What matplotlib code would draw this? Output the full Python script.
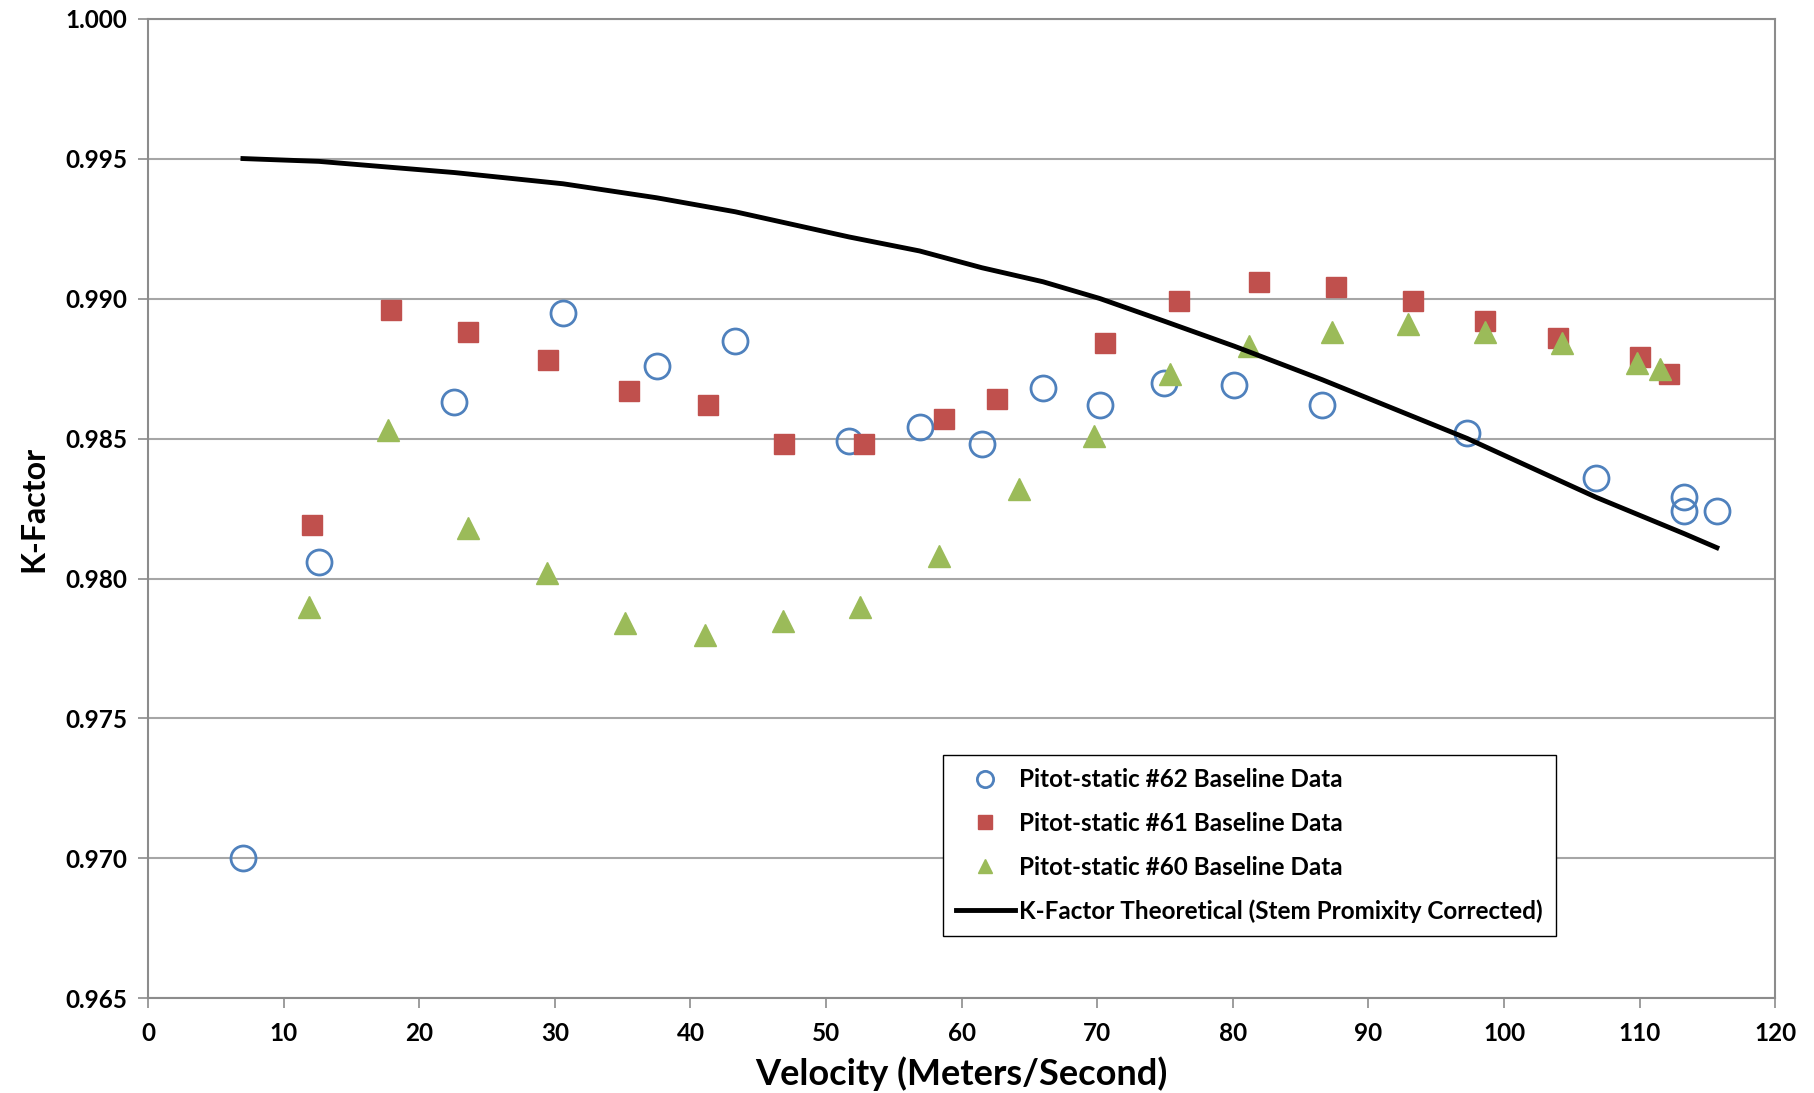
import matplotlib
matplotlib.use("Agg")
import matplotlib.pyplot as plt

# Pitot-static #62 (open circles)
vel_62 = [7.0, 12.6, 22.6, 30.6, 37.5, 43.3, 51.7, 56.9, 61.5, 66.0, 70.2,
          74.9, 80.1, 86.6, 97.3, 106.8, 113.3, 113.3, 115.7]
k_62 = [0.9700, 0.9806, 0.9863, 0.9895, 0.9876, 0.9885, 0.9849, 0.9854, 0.9848,
        0.9868, 0.9862, 0.9870, 0.9869, 0.9862, 0.9852, 0.9836, 0.9824, 0.9829,
        0.9824]

# Pitot-static #61 (squares)
vel_61 = [12.1, 17.9, 23.6, 29.5, 35.5, 41.3, 46.9, 52.8, 58.7, 62.6, 70.6,
          76.0, 81.9, 87.6, 93.3, 98.6, 104.0, 110.0, 112.2]
k_61 = [0.9819, 0.9896, 0.9888, 0.9878, 0.9867, 0.9862, 0.9848, 0.9848, 0.9857,
        0.9864, 0.9884, 0.9899, 0.9906, 0.9904, 0.9899, 0.9892, 0.9886, 0.9879,
        0.9873]

# Pitot-static #60 (triangles)
vel_60 = [11.9, 17.7, 23.6, 29.4, 35.2, 41.1, 46.8, 52.5, 58.3, 64.2, 69.8,
          75.4, 81.2, 87.3, 92.9, 98.6, 104.3, 109.8, 111.5]
k_60 = [0.9790, 0.9853, 0.9818, 0.9802, 0.9784, 0.9780, 0.9785, 0.9790, 0.9808,
        0.9832, 0.9851, 0.9873, 0.9883, 0.9888, 0.9891, 0.9888, 0.9884, 0.9877,
        0.9875]

# theoretical curve
vel_th = [7.0, 12.6, 22.6, 30.6, 37.5, 43.3, 51.7, 56.9, 61.5, 66.0, 70.2,
          74.9, 80.1, 86.6, 97.3, 106.8, 113.3, 115.7]
k_th = [0.9950, 0.9949, 0.9945, 0.9941, 0.9936, 0.9931, 0.9922, 0.9917, 0.9911,
        0.9906, 0.9900, 0.9892, 0.9883, 0.9871, 0.9850, 0.9829, 0.9816, 0.9811]

plt.rcParams["font.family"] = ["Lato", "DejaVu Sans"]
plt.rcParams["font.weight"] = "bold"

fig = plt.figure(figsize=(18.14, 10.93), dpi=100)
ax = fig.add_axes([0.0816, 0.0865, 0.897, 0.8965])

ax.plot(vel_62, k_62, linestyle="none", marker="o", ms=18, mfc="none",
        mec="#4F81BD", mew=2, label="Pitot-static #62 Baseline Data", zorder=3)
ax.plot(vel_61, k_61, linestyle="none", marker="s", ms=15, color="#C0504D",
        label="Pitot-static #61 Baseline Data", zorder=3)
ax.plot(vel_60, k_60, linestyle="none", marker="^", ms=16, color="#9BBB59",
        label="Pitot-static #60 Baseline Data", zorder=4)
ax.plot(vel_th, k_th, color="black", lw=3.5,
        label="K-Factor Theoretical (Stem Promixity Corrected)", zorder=5)

ax.set_xlim(0, 120)
ax.set_ylim(0.965, 1.000)
ax.set_xticks(range(0, 121, 10))
ax.set_yticks([0.965, 0.970, 0.975, 0.980, 0.985, 0.990, 0.995, 1.000])
ax.set_yticklabels([f"{v:.3f}" for v in ax.get_yticks()])

ax.grid(axis="y", color="#A6A6A6", lw=1.5)
ax.set_axisbelow(True)
for s in ax.spines.values():
    s.set_color("#8C8C8C")
    s.set_linewidth(1.5)
ax.tick_params(axis="both", labelsize=17.5, color="#8C8C8C", width=1.2, length=7)
ax.tick_params(axis="x", pad=10)
ax.tick_params(axis="y", pad=8)

ax.set_xlabel("Velocity (Meters/Second)", fontsize=26, fontweight="bold", labelpad=8)
ax.set_ylabel("K-Factor", fontsize=23, fontweight="bold", labelpad=12)

leg = ax.legend(loc="center", bbox_to_anchor=(0.677, 0.156), fontsize=17.5,
                frameon=True, fancybox=False, edgecolor="black", framealpha=1,
                handlelength=2.4, handletextpad=0.2, labelspacing=0.85,
                borderpad=0.55, markerscale=0.65)
leg.get_frame().set_linewidth(1.0)

fig.savefig("out.png", dpi=100)
